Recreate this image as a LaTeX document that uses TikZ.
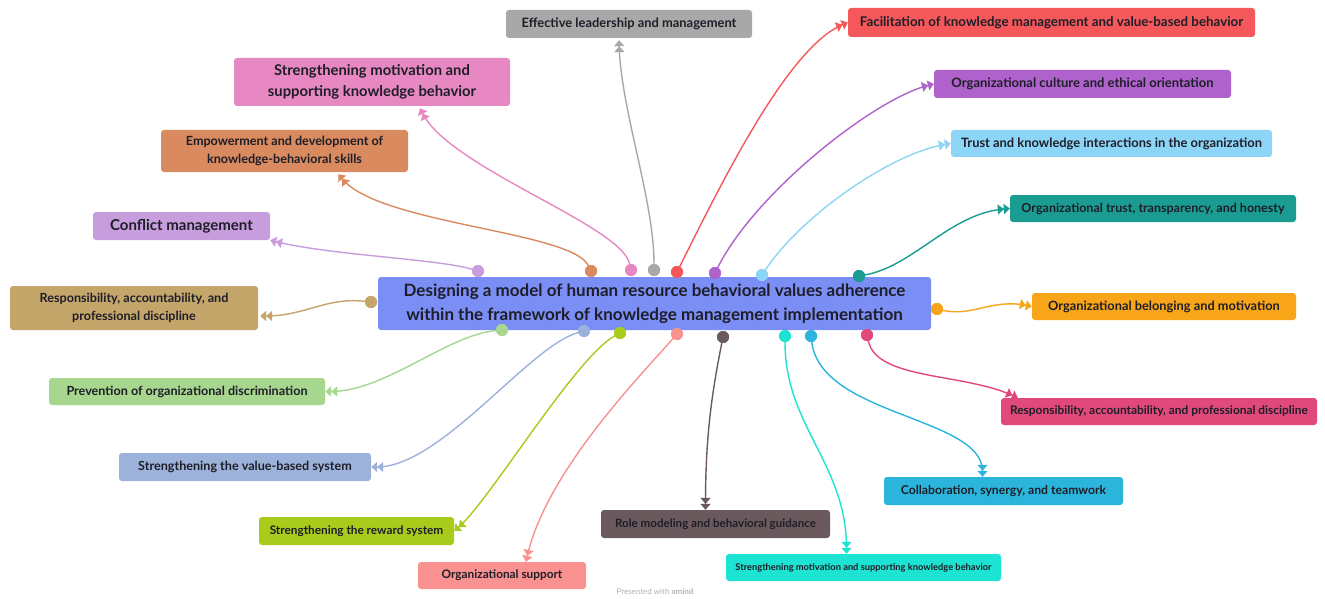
\documentclass[tikz,border=0pt]{standalone}
\usepackage{fontspec}
\setmainfont{Lato}
\usetikzlibrary{arrows.meta,calc}
\definecolor{txt}{HTML}{1E1E28}
\definecolor{cCen}{HTML}{7A8EF5}
\definecolor{cGray}{HTML}{A8A8A8}
\definecolor{cRed}{HTML}{F5585A}
\definecolor{cPur}{HTML}{B062CC}
\definecolor{cLBl}{HTML}{8DD5F7}
\definecolor{cTeal}{HTML}{1A9C92}
\definecolor{cOra}{HTML}{F9A51A}
\definecolor{cPRd}{HTML}{E1497A}
\definecolor{cCya}{HTML}{2BB5DD}
\definecolor{cTur}{HTML}{1DE3D2}
\definecolor{cBro}{HTML}{6B5A5D}
\definecolor{cSal}{HTML}{F8918F}
\definecolor{cLim}{HTML}{A8CB1C}
\definecolor{cBGr}{HTML}{9DB2DA}
\definecolor{cGrn}{HTML}{A7D68F}
\definecolor{cTan}{HTML}{C4A56A}
\definecolor{cLav}{HTML}{C79DDD}
\definecolor{cOBr}{HTML}{D98A5E}
\definecolor{cPnk}{HTML}{E888C2}
\newcommand\fz[1]{\bfseries\fontsize{#1}{1.4\dimexpr#1pt\relax}\selectfont}
\tikzset{
  box/.style={rounded corners=3pt, inner sep=0pt, text=txt, align=center},
  dot/.style={circle, minimum size=12pt, inner sep=0pt},
  conn/.style={line width=1.4pt, line cap=round,
    -{Triangle[length=6pt,width=10pt]Triangle[length=6pt,width=10pt]}},
}
\begin{document}
\begin{tikzpicture}[x=1pt,y=-1pt]
\fill[white] (0,0) rectangle (1325,599);
\useasboundingbox (0,0) rectangle (1325,599);

% central topic
\node[box, fill=cCen, minimum width=553pt, minimum height=53pt, font=\fz{17}] (c) at (654.5,303.5)
  {Designing a model of human resource behavioral values adherence\\within the framework of knowledge management implementation};

% subtopics
\node[box, fill=cGray, minimum width=246pt, minimum height=28pt, font=\fz{12.9}] (eff) at (629,24) {Effective leadership and management};
\node[box, fill=cRed, minimum width=407pt, minimum height=29pt, font=\fz{13.3}] (fac) at (1051.5,22.5) {Facilitation of knowledge management and value-based behavior};
\node[box, fill=cPur, minimum width=297pt, minimum height=28pt, font=\fz{13}] (cul) at (1082.5,84) {Organizational culture and ethical orientation};
\node[box, fill=cLBl, minimum width=321pt, minimum height=27pt, font=\fz{12.9}] (tru) at (1111.5,143.5) {Trust and knowledge interactions in the organization};
\node[box, fill=cTeal, minimum width=286pt, minimum height=27pt, font=\fz{12.5}] (otr) at (1153,208.5) {Organizational trust, transparency, and honesty};
\node[box, fill=cOra, minimum width=264pt, minimum height=27pt, font=\fz{12.8}] (bel) at (1164,306.5) {Organizational belonging and motivation};
\node[box, fill=cPRd, minimum width=316pt, minimum height=27pt, font=\fz{11.9}] (rsr) at (1159,411.5) {Responsibility, accountability, and professional discipline};
\node[box, fill=cCya, minimum width=239pt, minimum height=28pt, font=\fz{12.2}] (col) at (1003.5,491) {Collaboration, synergy, and teamwork};
\node[box, fill=cTur, minimum width=275pt, minimum height=27pt, font=\fz{9.3}] (smb) at (863.5,567.5) {Strengthening motivation and supporting knowledge behavior};
\node[box, fill=cBro, minimum width=229pt, minimum height=28pt, font=\fz{11.6}] (rol) at (715.5,524) {Role modeling and behavioral guidance};
\node[box, fill=cSal, minimum width=168pt, minimum height=27pt, font=\fz{11.8}] (sup) at (502,575.5) {Organizational support};
\node[box, fill=cLim, minimum width=195pt, minimum height=28pt, font=\fz{11.8}] (rew) at (356.5,531) {Strengthening the reward system};
\node[box, fill=cBGr, minimum width=252pt, minimum height=28pt, font=\fz{12.6}] (val) at (245,467) {Strengthening the value-based system};
\node[box, fill=cGrn, minimum width=276pt, minimum height=27pt, font=\fz{12.6}] (pre) at (187,391.5) {Prevention of organizational discrimination};
\node[box, fill=cTan, minimum width=248pt, minimum height=44pt, font=\fz{12.6}] (rsl) at (134,308) {Responsibility, accountability, and\\professional discipline};
\node[box, fill=cLav, minimum width=177pt, minimum height=28pt, font=\fz{15}] (con) at (181.5,226) {Conflict management};
\node[box, fill=cOBr, minimum width=247pt, minimum height=42pt, font=\fz{12.6}] (emp) at (284.5,151) {Empowerment and development of\\knowledge-behavioral skills};
\node[box, fill=cPnk, minimum width=276pt, minimum height=48pt, font=\fz{14.8}] (smt) at (372,82) {Strengthening motivation and\\supporting knowledge behavior};

% attachment dots
\node[dot, fill=cLav] (d1) at (478,271) {};
\node[dot, fill=cOBr] (d2) at (591,271) {};
\node[dot, fill=cPnk] (d3) at (631,270) {};
\node[dot, fill=cGray] (d4) at (654,270) {};
\node[dot, fill=cRed] (d5) at (677,272) {};
\node[dot, fill=cPur] (d6) at (715,273) {};
\node[dot, fill=cLBl] (d7) at (762,275) {};
\node[dot, fill=cTeal] (d8) at (859,276) {};
\node[dot, fill=cOra] (d9) at (937,309) {};
\node[dot, fill=cPRd] (d10) at (867,335) {};
\node[dot, fill=cCya] (d11) at (811,336) {};
\node[dot, fill=cTur] (d12) at (785,336) {};
\node[dot, fill=cBro] (d13) at (723,337) {};
\node[dot, fill=cSal] (d14) at (677,334) {};
\node[dot, fill=cLim] (d15) at (620,333) {};
\node[dot, fill=cBGr] (d16) at (584,331) {};
\node[dot, fill=cGrn] (d17) at (502,330) {};
\node[dot, fill=cTan] (d18) at (371,302) {};

% connectors
\draw[conn, cLav] (d1) .. controls +(-40,-12) and +(60,15) .. (con.south east);
\draw[conn, cOBr] (d2) .. controls +(-20,-40) and +(40,50) .. ($(emp.south)+(54,2)$);
\draw[conn, cPnk] (d3) .. controls +(-10,-45) and +(30,60) .. ($(smt.south)+(48,2)$);
\draw[conn, cGray] (d4) .. controls +(0,-70) and +(2,70) .. ($(eff.south)+(-10,2)$);
\draw[conn, cRed] (d5) .. controls +(45,-90) and +(-60,25) .. (fac.west);
\draw[conn, cPur] (d6) .. controls +(40,-80) and +(-60,15) .. (cul.west);
\draw[conn, cLBl] (d7) .. controls +(40,-60) and +(-60,10) .. (tru.west);
\draw[conn, cTeal] (d8) .. controls +(55,-10) and +(-60,5) .. (otr.west);
\draw[conn, cOra] (d9) .. controls +(35,8) and +(-40,-8) .. (bel.west);
\draw[conn, cPRd] (d10) .. controls +(10,45) and +(-55,-25) .. ($(rsr.north west)+(17,0)$);
\draw[conn, cCya] (d11) .. controls +(10,80) and +(0,-60) .. ($(col.north)+(-21,0)$);
\draw[conn, cTur] (d12) .. controls +(0,90) and +(0,-90) .. ($(smb.north)+(-17,0)$);
\draw[conn, cBro] (d13) .. controls +(-12,60) and +(0,-70) .. ($(rol.north)+(-10,0)$);
\draw[conn, cSal] (d14) .. controls +(-35,40) and +(20,-90) .. ($(sup.north)+(24,0)$);
\draw[conn, cLim] (d15) .. controls +(-45,25) and +(35,-30) .. (rew.east);
\draw[conn, cBGr] (d16) .. controls +(-55,15) and +(70,0) .. (val.east);
\draw[conn, cGrn] (d17) .. controls +(-55,5) and +(60,0) .. (pre.east);
\draw[conn, cTan] (d18) .. controls +(-45,-5) and +(45,0) .. ($(rsl.east)+(2,8)$);

% redraw dots on top of connectors
\foreach \d/\c in {d1/cLav,d2/cOBr,d3/cPnk,d4/cGray,d5/cRed,d6/cPur,d7/cLBl,d8/cTeal,d9/cOra,d10/cPRd,d11/cCya,d12/cTur,d13/cBro,d14/cSal,d15/cLim,d16/cBGr,d17/cGrn,d18/cTan}
  \fill[\c] (\d) circle (6pt);

\node[text=black!30, font=\fontsize{8}{10}\selectfont] (wm) at (655,592) {Presented with \textbf{xmind}};
\end{tikzpicture}
\end{document}
